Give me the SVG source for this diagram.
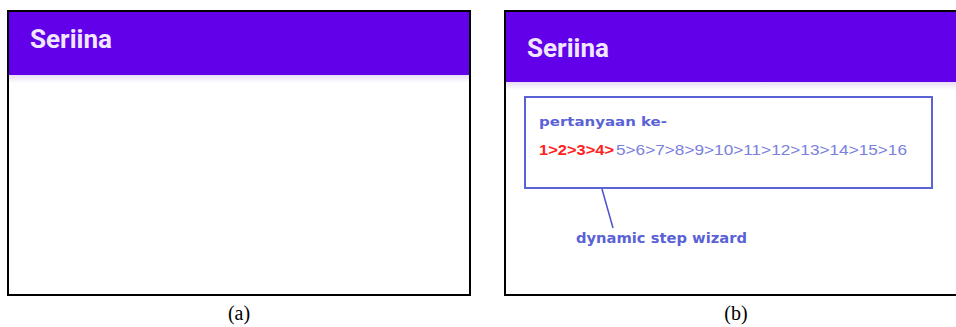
<svg xmlns="http://www.w3.org/2000/svg" width="956" height="327" viewBox="0 0 956 327">
<defs>
<style>
.frame{fill:#fff;stroke:#000;stroke-width:2}
.bar{fill:#6200ea}
.title{font-family:Roboto,"Liberation Sans",sans-serif;font-weight:bold;font-size:25px;fill:#f0e6ff}
.cap{font-family:"Liberation Serif",serif;font-size:20px;fill:#000;text-anchor:middle}
.blue{font-family:"DejaVu Sans","Liberation Sans",sans-serif;font-weight:bold;fill:#5a62d6}
.steps{font-family:"Liberation Sans",Arial,sans-serif;font-size:15px}
</style>
<linearGradient id="shadow" x1="0" y1="0" x2="0" y2="1">
<stop offset="0" stop-color="#e8dcf5"/>
<stop offset="1" stop-color="#ffffff"/>
</linearGradient>
</defs>
<rect width="956" height="327" fill="#fff"/>
<g id="panel-a">
<rect class="frame" x="8" y="11" width="462" height="284"/>
<rect class="bar" x="9" y="12" width="460" height="63"/>
<rect x="9" y="75" width="460" height="8" fill="url(#shadow)"/>
<text class="title" x="30" y="48" textLength="82" lengthAdjust="spacingAndGlyphs">Seriina</text>
<text class="cap" x="239" y="320">(a)</text>
</g>
<g id="panel-b">
<rect class="frame" x="505" y="11" width="460" height="284"/>
<rect class="bar" x="506" y="12" width="450" height="70"/>
<rect x="506" y="82" width="450" height="8" fill="url(#shadow)"/>
<text class="title" x="527" y="57" textLength="82" lengthAdjust="spacingAndGlyphs">Seriina</text>
<text class="cap" x="736" y="320">(b)</text>
</g>
<g id="wizard-box">
<rect x="525" y="97" width="407" height="91" fill="none" stroke="#5a62d6" stroke-width="2"/>
<text class="blue" x="539" y="126" font-size="13" textLength="128" lengthAdjust="spacingAndGlyphs">pertanyaan ke-</text>
<text class="steps" x="539" y="155" fill="#ff2020" font-weight="bold" textLength="75" lengthAdjust="spacingAndGlyphs">1&gt;2&gt;3&gt;4&gt;</text>
<text class="steps" x="616" y="155" fill="#7a80dc" textLength="291" lengthAdjust="spacingAndGlyphs">5&gt;6&gt;7&gt;8&gt;9&gt;10&gt;11&gt;12&gt;13&gt;14&gt;15&gt;16</text>
</g>
<g id="connectors">
<line x1="602" y1="189" x2="613" y2="228" stroke="#4a52c8" stroke-width="1.5"/>
</g>
<g id="wizard-label">
<text class="blue" x="576" y="243" font-size="14" textLength="171" lengthAdjust="spacingAndGlyphs">dynamic step wizard</text>
</g>
</svg>
